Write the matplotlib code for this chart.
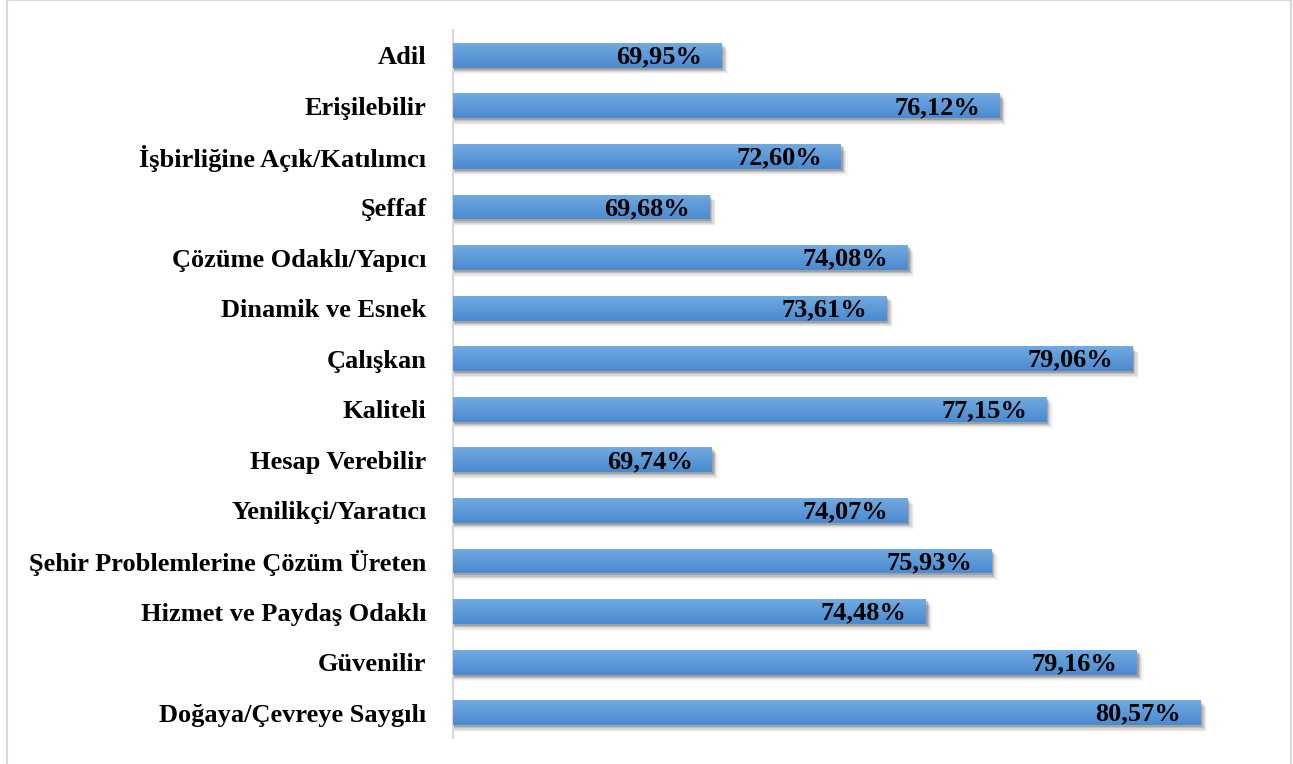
import matplotlib
matplotlib.use("Agg")
import matplotlib.pyplot as plt
import numpy as np
from matplotlib.patches import Rectangle
from matplotlib.colors import LinearSegmentedColormap

categories = ["Adil", "Erişilebilir", "İşbirliğine Açık/Katılımcı", "Şeffaf",
              "Çözüme Odaklı/Yapıcı", "Dinamik ve Esnek", "Çalışkan", "Kaliteli",
              "Hesap Verebilir", "Yenilikçi/Yaratıcı", "Şehir Problemlerine Çözüm Üreten",
              "Hizmet ve Paydaş Odaklı", "Güvenilir", "Doğaya/Çevreye Saygılı"]
values = [69.95, 76.12, 72.60, 69.68, 74.08, 73.61, 79.06, 77.15, 69.74, 74.07,
          75.93, 74.48, 79.16, 80.57]
value_labels = ["69,95%", "76,12%", "72,60%", "69,68%", "74,08%", "73,61%", "79,06%",
                "77,15%", "69,74%", "74,07%", "75,93%", "74,48%", "79,16%", "80,57%"]

W, H = 1293, 764
fig = plt.figure(figsize=(W / 100, H / 100), dpi=100)
fig.patch.set_facecolor("white")

# outer frame
fig.patches.append(Rectangle((7 / W, -0.01), (1291 - 7) / W, 1.01, transform=fig.transFigure,
                             fill=False, edgecolor="#d9d9d9", linewidth=1.5))

xmin, xmax = 64.0, 82.0
px_per_unit = 45.1
ax_left = 453
ax_right = ax_left + (xmax - xmin) * px_per_unit
ax_top, ax_bottom = 30, 738
ax = fig.add_axes([ax_left / W, 1 - ax_bottom / H, (ax_right - ax_left) / W, (ax_bottom - ax_top) / H])
ax.set_xlim(xmin, xmax)
n = len(categories)
ax.set_ylim(n - 0.5, -0.5)

bar_h = 0.49
cmap = LinearSegmentedColormap.from_list("g", ["#72aae0", "#4a8ad0"])
grad = np.linspace(0, 1, 64).reshape(-1, 1)
py = 1 / 50.6   # one pixel in y data units
px = 1 / px_per_unit

for i, (v, lab) in enumerate(zip(values, value_labels)):
    # soft drop shadow
    for k, a in enumerate([0.16, 0.11, 0.08, 0.05, 0.03]):
        off = (2 + 1.2 * k) * py
        ax.add_patch(Rectangle((xmin, i - bar_h / 2 + off), v - xmin + (2 + 1.2 * k) * px, bar_h,
                               facecolor="black", alpha=a, edgecolor="none", zorder=1))
    bars = ax.barh(i, v - xmin, left=xmin, height=bar_h, color="#5b9bd5", edgecolor="none", zorder=2)
    rect = bars[0]
    im = ax.imshow(grad, cmap=cmap, aspect="auto", extent=(xmin, v, i + bar_h / 2, i - bar_h / 2),
                   zorder=3, interpolation="bicubic")
    im.set_clip_path(rect)
    ax.text(v - 0.42, i + 0.03, lab, ha="right", va="center", fontsize=19,
            fontweight="bold", family="Liberation Serif", color="black", zorder=5)

ax.set_ylim(n - 0.5, -0.5)
ax.set_xlim(xmin, xmax)
ax.set_yticks(range(n))
ax.set_yticklabels(categories, fontsize=19, fontweight="bold", family="Liberation Serif")
ax.tick_params(axis="y", length=0, pad=19)
ax.set_xticks([])
for s in ["top", "right", "bottom"]:
    ax.spines[s].set_visible(False)
ax.spines["left"].set_color("#d9d9d9")
ax.spines["left"].set_linewidth(1.5)
ax.set_facecolor("none")

fig.savefig("out.png", dpi=100)
